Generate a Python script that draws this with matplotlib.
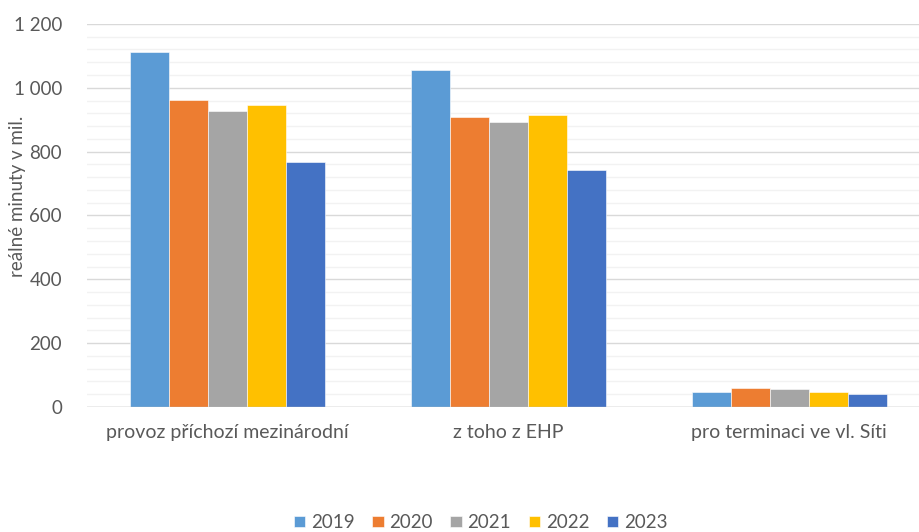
import numpy as np
import matplotlib.pyplot as plt
from matplotlib.ticker import MultipleLocator, FuncFormatter

plt.rcParams['font.family'] = ['Lato', 'DejaVu Sans']

categories = ['provoz příchozí mezinárodní', 'z toho z EHP', 'pro terminaci ve vl. Síti']
years = ['2019', '2020', '2021', '2022', '2023']
v2019 = [1112, 1056, 48]
v2020 = [962, 908, 60]
v2021 = [927, 893, 55]
v2022 = [946, 915, 48]
v2023 = [767, 742, 42]
colors = ['#5b9bd5', '#ed7d31', '#a5a5a5', '#ffc000', '#4472c4']

series = [v2019, v2020, v2021, v2022, v2023]

fig = plt.figure(figsize=(9.19, 5.32), dpi=100)
# plot area runs a little past the right edge of the figure
ax = fig.add_axes([0.0947, 0.235, 0.917, 0.72])

x = np.arange(len(categories))
w = 0.139
for i, (vals, yr, c) in enumerate(zip(series, years, colors)):
    ax.bar(x + (i - 2) * w, vals, w, color=c, label=yr, zorder=3,
           edgecolor='white', linewidth=0.4)

ax.set_xlim(-0.5, 2.5)
ax.set_ylim(0, 1200)
ax.yaxis.set_major_locator(MultipleLocator(200))
ax.yaxis.set_minor_locator(MultipleLocator(40))
ax.yaxis.set_major_formatter(FuncFormatter(lambda v, p: f'{int(v):,}'.replace(',', ' ')))
ax.grid(axis='y', which='major', color='#d9d9d9', linewidth=1.0, zorder=0)
ax.grid(axis='y', which='minor', color='#f2f2f2', linewidth=1.0, zorder=0)
ax.axhline(0, color='#bfbfbf', linewidth=1.0, zorder=4)
for s in ax.spines.values():
    s.set_visible(False)

ax.set_xticks(x)
ax.set_xticklabels(categories)
ax.tick_params(axis='both', which='both', length=0, colors='#595959')
ax.tick_params(axis='x', labelsize=14, pad=12)
ax.tick_params(axis='y', labelsize=13.5, pad=18)

fig.text(0.0185, 0.63, 'reálné minuty v mil.', rotation=90, ha='center', va='center',
         color='#595959', fontsize=13.5)

fig.legend(loc='lower center', bbox_to_anchor=(0.523, -0.03), ncol=5, frameon=False,
           fontsize=13.5, handlelength=0.6, handleheight=0.6, handletextpad=0.3,
           columnspacing=0.95, labelcolor='#595959')

fig.savefig('out.png', dpi=100)
